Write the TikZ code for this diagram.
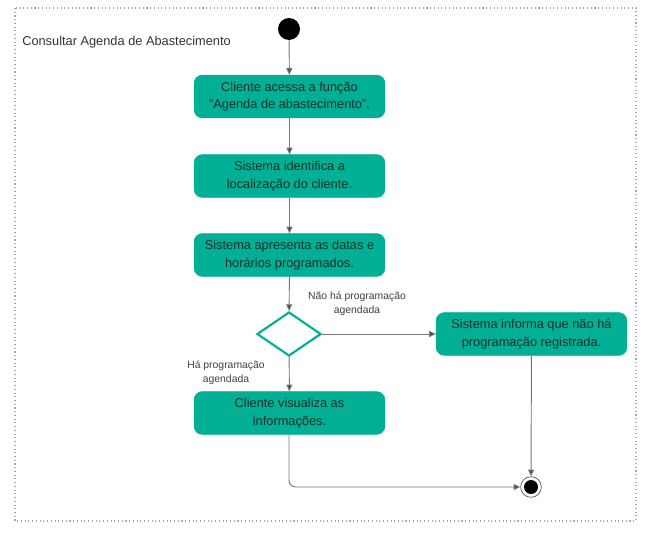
\documentclass[tikz,border=0pt]{standalone}
\usepackage{fontspec}
\setmainfont{Liberation Sans}
\usetikzlibrary{arrows.meta,shapes.geometric}
\definecolor{teal}{HTML}{00AF94}
\definecolor{txt}{HTML}{16302B}
\definecolor{lin}{HTML}{777777}
\tikzset{
  actbox/.style={rectangle,rounded corners=6pt,fill=teal,draw=teal,minimum width=143pt,minimum height=32pt,align=center,text=txt,font=\fontsize{9.6}{13.2}\selectfont,inner sep=0pt},
  flow/.style={draw=lin,line width=0.7pt,-{Triangle[length=5pt,width=4.5pt,fill=black!70]}},
  lbl/.style={font=\fontsize{7.8}{10.5}\selectfont,align=center,text=black!75},
}
\begin{document}
\begin{tikzpicture}[x=0.75pt,y=-0.75pt]
\useasboundingbox (0,0) rectangle (656,552);
\draw[black!35,dotted,line width=0.8pt] (15,8) rectangle (636,521);
\node[anchor=west,font=\fontsize{9.6}{11}\selectfont,text=black!80,inner sep=0pt] (title) at (22,42) {Consultar Agenda de Abastecimento};
\node[circle,fill=black,minimum size=16.5pt,inner sep=0pt] (start) at (289,29) {};
\node[actbox] (b1) at (289.5,96.5) {Cliente acessa a função\\"Agenda de abastecimento".};
\node[actbox] (b2) at (289.5,176) {Sistema identifica a\\localização do cliente.};
\node[actbox] (b3) at (289.5,255) {Sistema apresenta as datas e\\horários programados.};
\node[diamond,draw=teal,line width=1.6pt,fill=white,minimum width=48pt,minimum height=33pt,inner sep=0pt] (d) at (289,334) {};
\node[actbox] (b5) at (531.5,334) {Sistema informa que não há\\programação registrada.};
\node[actbox] (b4) at (289.5,413) {Cliente visualiza as\\informações.};
\node[circle,draw=black!60,fill=white,line width=0.6pt,minimum size=15.5pt,inner sep=0pt] (end) at (531,487) {};
\node[circle,fill=black,minimum size=10.5pt,inner sep=0pt] at (end) {};
\node[lbl] (l1) at (357,304) {Não há programação\\agendada};
\node[lbl] (l2) at (226,373) {Há programação\\agendada};
\draw[flow] (start) -- (b1);
\draw[flow] (b1) -- (b2);
\draw[flow] (b2) -- (b3);
\draw[flow] (b3) -- (d);
\draw[flow] (d) -- (b5);
\draw[flow] (d) -- (b4);
\draw[flow] (b5) -- (end);
\draw[flow,rounded corners=5pt] (b4.south -| 289,0) |- (end.west);
\end{tikzpicture}
\end{document}
